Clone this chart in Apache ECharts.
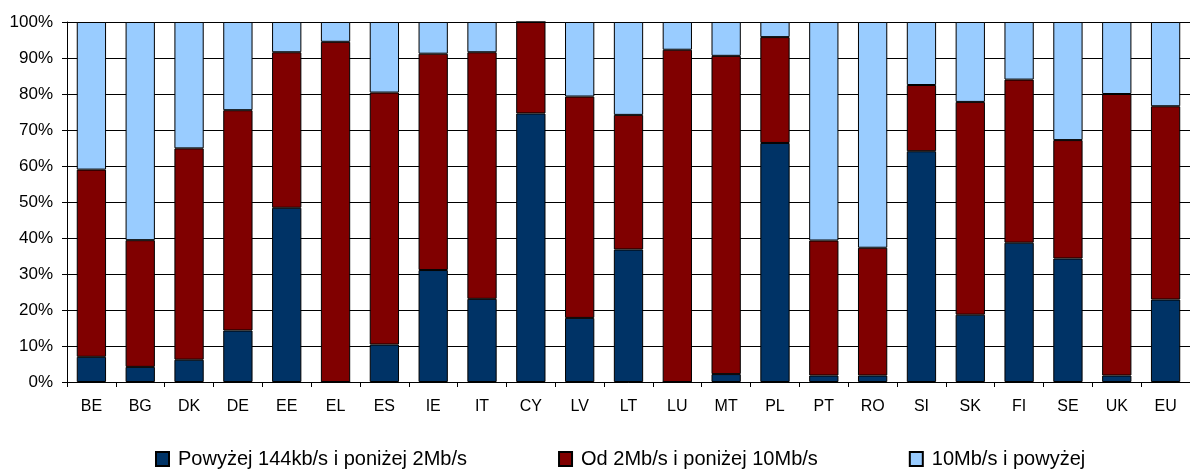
<!DOCTYPE html>
<html>
<head>
<meta charset="utf-8">
<script src="https://cdn.jsdelivr.net/npm/echarts@6/dist/echarts.min.js"></script>
<style>
  html, body { margin: 0; padding: 0; background: #fff; }
  #chart { width: 1190px; height: 469px; }
</style>
</head>
<body>
<div id="chart"></div>
<script>
// Broadband connection speed shares by country (percent of connections)
const countries = ['BE','BG','DK','DE','EE','EL','ES','IE','IT','CY','LV','LT','LU','MT','PL','PT','RO','SI','SK','FI','SE','UK','EU'];

const seriesNames = ['Powyżej 144kb/s i poniżej 2Mb/s', 'Od 2Mb/s i poniżej 10Mb/s', '10Mb/s i powyżej'];

const below2Mb = [7.0, 4.2, 6.2, 14.3, 48.4, 0.0, 10.4, 31.1, 23.1, 74.6, 17.8, 36.8, 0.0, 2.2, 66.4, 1.8, 1.8, 64.1, 18.7, 38.7, 34.3, 1.8, 22.9];
const from2to10Mb = [52.0, 35.2, 58.7, 61.2, 43.2, 94.5, 70.0, 60.1, 68.5, 25.4, 61.5, 37.4, 92.3, 88.4, 29.4, 37.5, 35.5, 18.4, 59.1, 45.3, 32.9, 78.2, 53.7];
const above10Mb = [41.0, 60.6, 35.1, 24.5, 8.4, 5.5, 19.6, 8.8, 8.4, 0.0, 20.7, 25.8, 7.7, 9.4, 4.2, 60.7, 62.7, 17.5, 22.2, 16.0, 32.8, 20.0, 23.4];

const yTicks = { min: 0, max: 100, interval: 10 };

const colors = ['#003366', '#800000', '#99CCFF'];
const font = '"Liberation Sans", Arial, sans-serif';

const chart = echarts.init(document.getElementById('chart'), null, { renderer: 'canvas' });

function barSeries(name, data, color) {
  return {
    name: name,
    type: 'bar',
    stack: 'total',
    data: data,
    barWidth: '60%',
    itemStyle: { color: color, borderColor: '#000', borderWidth: 1 },
    emphasis: { disabled: true }
  };
}

chart.setOption({
  animation: false,
  textStyle: { fontFamily: font },
  grid: { left: 67, top: 22, width: 1132, height: 360, containLabel: false },
  legend: {
    left: 155,
    top: 449,
    padding: 0,
    itemWidth: 13,
    itemHeight: 14,
    itemGap: 91,
    icon: 'rect',
    textStyle: { fontFamily: font, fontSize: 20, color: '#000', padding: [0, 0, 0, 4] },
    data: seriesNames
  },
  xAxis: {
    type: 'category',
    data: countries,
    axisLine: { lineStyle: { color: '#000', width: 1 } },
    axisTick: { show: true, alignWithLabel: false, length: 5, lineStyle: { color: '#000' } },
    axisLabel: { color: '#000', fontSize: 16, fontFamily: font, margin: 17, interval: 0 }
  },
  yAxis: {
    type: 'value',
    min: yTicks.min,
    max: yTicks.max,
    interval: yTicks.interval,
    axisLine: { show: true, lineStyle: { color: '#000', width: 1 } },
    axisTick: { show: true, length: 5, inside: false, lineStyle: { color: '#000' } },
    axisLabel: { color: '#000', fontSize: 17, fontFamily: font, margin: 14, formatter: '{value}%' },
    splitLine: { show: true, lineStyle: { color: '#000', width: 1 } }
  },
  series: [
    barSeries(seriesNames[0], below2Mb, colors[0]),
    barSeries(seriesNames[1], from2to10Mb, colors[1]),
    barSeries(seriesNames[2], above10Mb, colors[2])
  ]
});
</script>
</body>
</html>
